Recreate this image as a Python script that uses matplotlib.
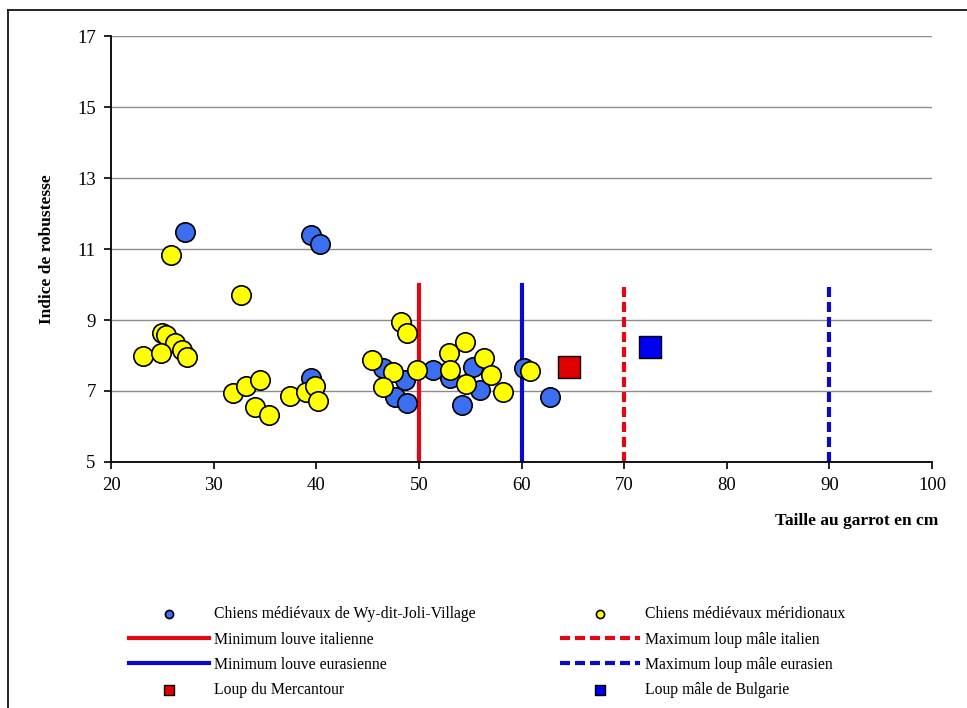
import matplotlib
matplotlib.use("Agg")
import matplotlib.pyplot as plt
from matplotlib.lines import Line2D

plt.rcParams['font.family'] = ['Liberation Serif', 'DejaVu Serif']

# Chiens médiévaux de Wy-dit-Joli-Village
wy_x = [27.2, 39.5, 40.4, 39.5, 46.5, 48.65, 47.7, 48.8, 51.4, 53.0, 54.2, 55.3, 56.0, 60.2, 62.8]
wy_y = [11.49, 11.39, 11.13, 7.36, 7.64, 7.31, 6.84, 6.65, 7.59, 7.36, 6.61, 7.68, 7.03, 7.64, 6.82]

# Chiens médiévaux méridionaux
mer_x = [25.8, 32.7, 25.0, 25.4, 26.2, 26.9, 27.4, 23.1, 24.9, 31.9, 33.2, 34.5, 34.0, 35.4,
         37.4, 39.0, 39.9, 40.2, 48.3, 48.8, 45.4, 47.5, 46.5, 49.8, 52.9, 54.5, 53.0, 56.3,
         57.0, 54.6, 58.2, 60.8]
mer_y = [10.83, 9.70, 8.64, 8.58, 8.36, 8.15, 7.97, 8.0, 8.08, 6.95, 7.14, 7.31, 6.56, 6.32,
         6.86, 6.98, 7.14, 6.72, 8.95, 8.64, 7.87, 7.54, 7.12, 7.59, 8.06, 8.39, 7.59, 7.92,
         7.45, 7.19, 6.98, 7.57]

# wolves
merc_x, merc_y = [64.6], [7.67]
bulg_x, bulg_y = [72.5], [8.23]

# reference limits (vertical lines from 5 to 10)
lim_labels = ["Minimum louve italienne", "Maximum loup mâle italien",
              "Minimum louve eurasienne", "Maximum loup mâle eurasien"]
lim_x = [50, 70, 60, 90]
lim_top = 10

yticks = [5, 7, 9, 11, 13, 15, 17]
xticks = [20, 30, 40, 50, 60, 70, 80, 90, 100]

fig = plt.figure(figsize=(9.67, 7.08), dpi=100)
ax = fig.add_axes([0.1148, 0.3475, 0.849, 0.6015])

# frame around figure
fig.add_artist(Line2D([8/967, 1], [1 - 10/708] * 2, color='black', lw=1.2, transform=fig.transFigure))
fig.add_artist(Line2D([8/967] * 2, [0, 1 - 10/708], color='black', lw=1.2, transform=fig.transFigure))

red, blue = '#e30613', '#0a0acf'
lim_styles = [(red, '-'), (red, (0, (2.4, 1.2))), (blue, '-'), (blue, (0, (2.4, 1.2)))]
lh = {}
for lbl, x, (c, ls) in zip(lim_labels, lim_x, lim_styles):
    lh[lbl], = ax.plot([x, x], [5, lim_top], color=c, ls=ls, lw=3, zorder=2, label=lbl)

h_wy = ax.scatter(wy_x, wy_y, s=195, c='#3b6ef0', edgecolors='black', linewidths=1.2, zorder=3,
                  label="Chiens médiévaux de Wy-dit-Joli-Village")
h_mer = ax.scatter(mer_x, mer_y, s=195, c='#ffff00', edgecolors='black', linewidths=1.2, zorder=4,
                   label="Chiens médiévaux méridionaux")
h_merc = ax.scatter(merc_x, merc_y, s=245, marker='s', c='#e00000', edgecolors='black', linewidths=1,
                    zorder=5, label="Loup du Mercantour")
h_bulg = ax.scatter(bulg_x, bulg_y, s=245, marker='s', c='#0000f0', edgecolors='black', linewidths=1,
                    zorder=5, label="Loup mâle de Bulgarie")

ax.set_xlim(20, 100)
ax.set_ylim(5, 17)
ax.set_xticks(xticks)
ax.set_yticks(yticks)
ax.yaxis.grid(True, color='#8c8c8c', lw=1)
ax.set_axisbelow(True)
for s in ['top', 'right']:
    ax.spines[s].set_visible(False)
ax.spines['left'].set_linewidth(1.3)
ax.spines['bottom'].set_linewidth(1.3)
ax.tick_params(labelsize=13.5, length=5, width=1.2, pad=6)

ax.set_ylabel("Indice de robustesse", fontsize=12.5, fontweight='bold', labelpad=16)
fig.text(0.970, 1 - 521/708, "Taille au garrot en cm", fontsize=12.5, fontweight='bold',
         ha='right', va='center')

handles = [h_wy, lh[lim_labels[0]], lh[lim_labels[2]], h_merc,
           h_mer, lh[lim_labels[1]], lh[lim_labels[3]], h_bulg]
labels = [h.get_label() for h in handles]
fig.legend(handles, labels, loc='upper center', bbox_to_anchor=(0.504, 1 - 592/708), ncol=2,
           frameon=False, fontsize=11.3, handlelength=5.1, markerscale=0.42,
           columnspacing=5.4, labelspacing=0.6, handletextpad=0.3)

fig.savefig("out.png", dpi=100)
